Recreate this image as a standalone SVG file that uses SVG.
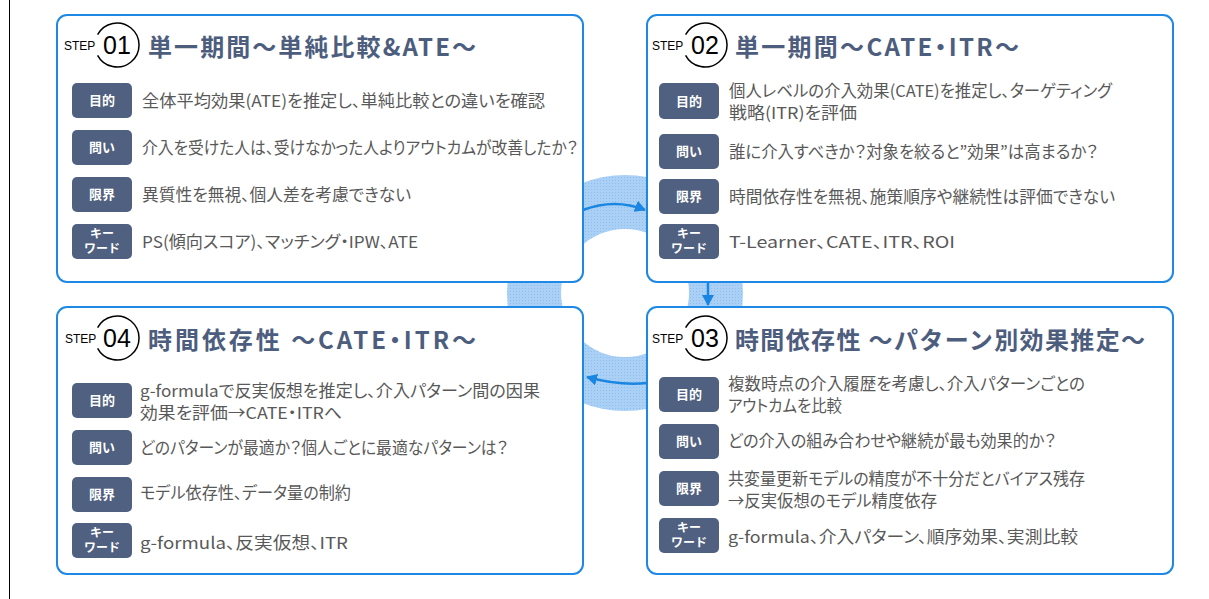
<svg xmlns="http://www.w3.org/2000/svg" width="1209" height="599" viewBox="0 0 1209 599">
<style>
.card{fill:#fff;stroke:#1e88e5;stroke-width:2}
.badge{fill:#4f6080}
.bl{font-family:"Noto Sans CJK JP",sans-serif;font-weight:700;font-size:13px;fill:#fff;text-anchor:middle}
.bk{font-size:12px}
.tx{font-family:"Noto Sans CJK JP",sans-serif;font-size:16.5px;fill:#595959;font-feature-settings:"palt"}
.ttl{font-family:"Noto Sans CJK JP",sans-serif;font-weight:700;font-size:24px;fill:#4d5d7e}
.pd{font-feature-settings:"palt"}
.step{font-family:"Liberation Sans",Arial,sans-serif;font-size:12px;fill:#000}
.num{font-family:"Liberation Sans",Arial,sans-serif;font-size:25px;fill:#000;text-anchor:middle}
.sc{fill:none;stroke:#000;stroke-width:1.5}
.conn{fill:none;stroke:#1a86e2;stroke-width:2.5;marker-end:url(#ah)}
</style>
<defs>
<pattern id="dots" width="3" height="3" patternUnits="userSpaceOnUse"><rect width="3" height="3" fill="#aad1f5"/><rect width="1" height="1" fill="#8cbfee"/></pattern>
<marker id="ah" markerUnits="userSpaceOnUse" markerWidth="12" markerHeight="12" refX="10" refY="6" orient="auto"><path d="M0,0 L11,6 L0,12 z" fill="#1a86e2"/></marker>
</defs>
<line x1="9.5" y1="0" x2="9.5" y2="599" stroke="#000" stroke-width="1"/>
<g id="ring">
<path fill="url(#dots)" fill-rule="evenodd" d="M507 293a118 118 0 1 0 236 0a118 118 0 1 0 -236 0ZM561 293a64 64 0 1 0 128 0a64 64 0 1 0 -128 0Z"/>
</g>
<g id="step01">
<rect class="card" x="57" y="15" width="526" height="267" rx="10"/>
<text class="step" x="64" y="50">STEP</text>
<path class="sc" d="M97.6 34.7A22 22 0 1 1 97.6 55.3"/>
<text class="num" x="117" y="54">01</text>
<text class="ttl" x="148" y="56" textLength="328" lengthAdjust="spacing">単一期間～単純比較&amp;ATE～</text>
<rect class="badge" x="72" y="83" width="60" height="35" rx="5"/><text class="bl" x="102" y="105">目的</text>
<text class="tx" x="142" y="107" textLength="403" lengthAdjust="spacingAndGlyphs">全体平均効果(ATE)を推定し、単純比較との違いを確認</text>
<rect class="badge" x="72" y="130" width="60" height="35" rx="5"/><text class="bl" x="102" y="152">問い</text>
<text class="tx" x="142" y="154" textLength="436" lengthAdjust="spacingAndGlyphs">介入を受けた人は、受けなかった人よりアウトカムが改善したか？</text>
<rect class="badge" x="72" y="177" width="60" height="35" rx="5"/><text class="bl" x="102" y="199">限界</text>
<text class="tx" x="142" y="201" textLength="269" lengthAdjust="spacingAndGlyphs">異質性を無視、個人差を考慮できない</text>
<rect class="badge" x="72" y="224" width="60" height="35" rx="5"/><text class="bl bk" x="102" y="238">キー</text><text class="bl bk" x="102" y="253">ワード</text>
<text class="tx" x="142" y="248" textLength="276" lengthAdjust="spacingAndGlyphs">PS(傾向スコア)、マッチング・IPW、ATE</text>
</g>
<g id="step02">
<rect class="card" x="647" y="15" width="526" height="267" rx="10"/>
<text class="step" x="652" y="50">STEP</text>
<path class="sc" d="M685.6 34.7A22 22 0 1 1 685.6 55.3"/>
<text class="num" x="705" y="54">02</text>
<text class="ttl" x="735" y="56" textLength="284" lengthAdjust="spacing">単一期間～CATE<tspan class="pd">・</tspan>ITR～</text>
<rect class="badge" x="659" y="83" width="60" height="36" rx="5"/><text class="bl" x="689" y="106">目的</text>
<text class="tx" x="729" y="97" textLength="383" lengthAdjust="spacingAndGlyphs">個人レベルの介入効果(CATE)を推定し、ターゲティング</text>
<text class="tx" x="729" y="119" textLength="128" lengthAdjust="spacingAndGlyphs">戦略(ITR)を評価</text>
<rect class="badge" x="659" y="134" width="60" height="35" rx="5"/><text class="bl" x="689" y="156">問い</text>
<text class="tx" x="729" y="158" textLength="369" lengthAdjust="spacingAndGlyphs">誰に介入すべきか？対象を絞ると”効果”は高まるか？</text>
<rect class="badge" x="659" y="179" width="60" height="35" rx="5"/><text class="bl" x="689" y="201">限界</text>
<text class="tx" x="729" y="203" textLength="386" lengthAdjust="spacingAndGlyphs">時間依存性を無視、施策順序や継続性は評価できない</text>
<rect class="badge" x="659" y="224" width="60" height="35" rx="5"/><text class="bl bk" x="689" y="238">キー</text><text class="bl bk" x="689" y="253">ワード</text>
<text class="tx" x="729" y="248" textLength="226" lengthAdjust="spacingAndGlyphs">T-Learner、CATE、ITR、ROI</text>
</g>
<g id="step03">
<rect class="card" x="647" y="307" width="526" height="267" rx="10"/>
<text class="step" x="652" y="343">STEP</text>
<path class="sc" d="M685.6 327.7A22 22 0 1 1 685.6 348.3"/>
<text class="num" x="705" y="347">03</text>
<text class="ttl" x="735" y="349" textLength="410" lengthAdjust="spacing">時間依存性 ～パターン別効果推定～</text>
<rect class="badge" x="659" y="377" width="60" height="35" rx="5"/><text class="bl" x="689" y="399">目的</text>
<text class="tx" x="728" y="390" textLength="357" lengthAdjust="spacingAndGlyphs">複数時点の介入履歴を考慮し、介入パターンごとの</text>
<text class="tx" x="728" y="412" textLength="114" lengthAdjust="spacingAndGlyphs">アウトカムを比較</text>
<rect class="badge" x="659" y="424" width="60" height="35" rx="5"/><text class="bl" x="689" y="446">問い</text>
<text class="tx" x="728" y="447" textLength="328" lengthAdjust="spacingAndGlyphs">どの介入の組み合わせや継続が最も効果的か？</text>
<rect class="badge" x="659" y="471" width="60" height="35" rx="5"/><text class="bl" x="689" y="493">限界</text>
<text class="tx" x="728" y="485" textLength="357" lengthAdjust="spacingAndGlyphs">共変量更新モデルの精度が不十分だとバイアス残存</text>
<text class="tx" x="728" y="507" textLength="209" lengthAdjust="spacingAndGlyphs">→反実仮想のモデル精度依存</text>
<rect class="badge" x="659" y="518" width="60" height="35" rx="5"/><text class="bl bk" x="689" y="532">キー</text><text class="bl bk" x="689" y="547">ワード</text>
<text class="tx" x="728" y="543" textLength="350" lengthAdjust="spacingAndGlyphs">g-formula、介入パターン、順序効果、実測比較</text>
</g>
<g id="step04">
<rect class="card" x="57" y="307" width="526" height="267" rx="10"/>
<text class="step" x="65" y="343">STEP</text>
<path class="sc" d="M97.6 327.7A22 22 0 1 1 97.6 348.3"/>
<text class="num" x="117" y="347">04</text>
<text class="ttl" x="148" y="349" textLength="328" lengthAdjust="spacing">時間依存性 ～CATE<tspan class="pd">・</tspan>ITR～</text>
<rect class="badge" x="72" y="383" width="60" height="35" rx="5"/><text class="bl" x="102" y="405">目的</text>
<text class="tx" x="140" y="397" textLength="400" lengthAdjust="spacingAndGlyphs">g-formulaで反実仮想を推定し、介入パターン間の因果</text>
<text class="tx" x="140" y="419" textLength="202" lengthAdjust="spacingAndGlyphs">効果を評価→CATE・ITRへ</text>
<rect class="badge" x="72" y="430" width="60" height="35" rx="5"/><text class="bl" x="102" y="452">問い</text>
<text class="tx" x="140" y="454" textLength="368" lengthAdjust="spacingAndGlyphs">どのパターンが最適か？個人ごとに最適なパターンは？</text>
<rect class="badge" x="72" y="477" width="60" height="35" rx="5"/><text class="bl" x="102" y="499">限界</text>
<text class="tx" x="140" y="499" textLength="211" lengthAdjust="spacingAndGlyphs">モデル依存性、データ量の制約</text>
<rect class="badge" x="72" y="523" width="60" height="35" rx="5"/><text class="bl bk" x="102" y="537">キー</text><text class="bl bk" x="102" y="552">ワード</text>
<text class="tx" x="140" y="549" textLength="208" lengthAdjust="spacingAndGlyphs">g-formula、反実仮想、ITR</text>
</g>
<g id="connectors">
<path class="conn" d="M583 210Q615 198 645 210"/>
<path class="conn" d="M708 282L708 305"/>
<path class="conn" d="M647 383Q620 386 587 377"/>
</g>
</svg>
